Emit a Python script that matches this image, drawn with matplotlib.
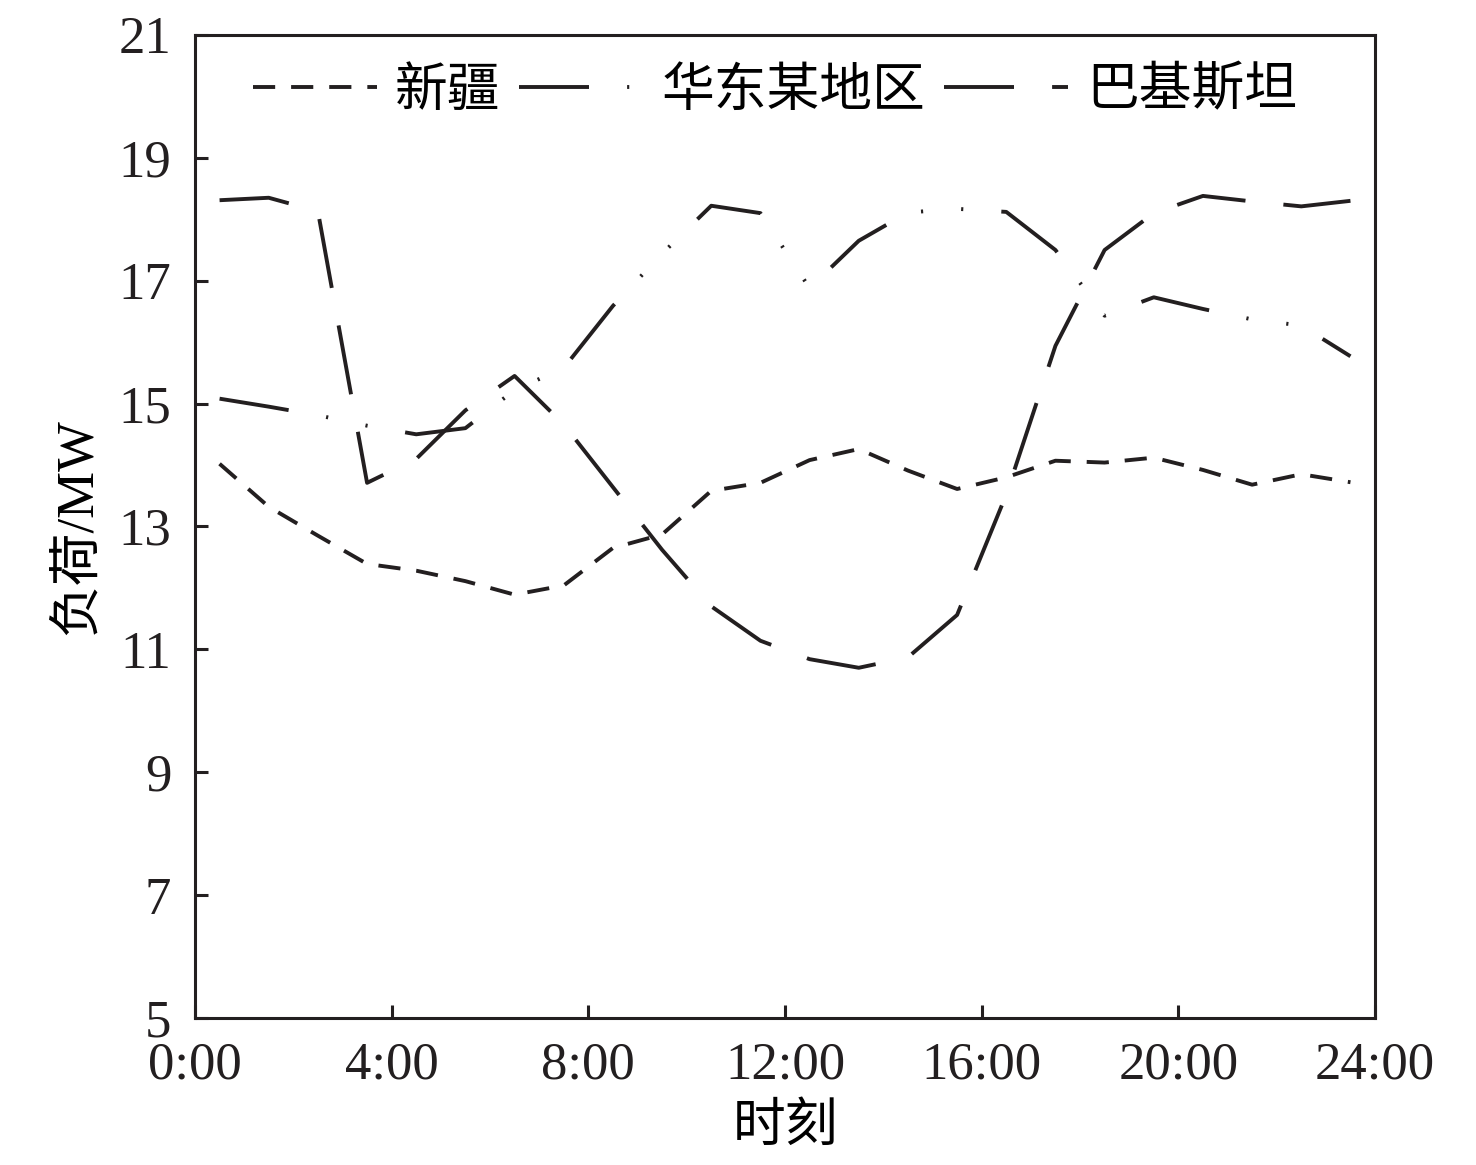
import matplotlib
matplotlib.use('Agg')
import matplotlib.pyplot as plt

plt.rcParams['font.family'] = ['Liberation Serif', 'Noto Sans CJK SC']

# hourly samples, plotted at the half hour
hours = [h + 0.5 for h in range(24)]

xinjiang = [14.02, 13.32, 12.85, 12.39, 12.28, 12.11, 11.89, 12.04, 12.65, 12.87, 13.58, 13.71,
            14.08, 14.26, 13.91, 13.61, 13.80, 14.07, 14.04, 14.12, 13.92, 13.68, 13.85, 13.72]
huadong = [15.08, 14.95, 14.81, 14.64, 14.50, 14.60, 15.22, 15.58, 16.59, 17.44, 18.22, 18.10,
           16.88, 17.65, 18.11, 18.17, 18.12, 17.50, 16.43, 16.73, 16.54, 16.37, 16.27, 15.77]
pakistan = [18.31, 18.35, 18.13, 13.71, 14.10, 14.89, 15.45, 14.66, 13.64, 12.62, 11.70, 11.14,
            10.84, 10.70, 10.87, 11.56, 13.52, 15.94, 17.50, 18.10, 18.38, 18.29, 18.21, 18.30]

names = ['新疆', '华东某地区', '巴基斯坦']
xticks = [0, 4, 8, 12, 16, 20, 24]
xlabels = ['0:00', '4:00', '8:00', '12:00', '16:00', '20:00', '24:00']
yticks = [5, 7, 9, 11, 13, 15, 17, 19, 21]

ink = '#231f20'
lw = 2.8

fig = plt.figure(figsize=(14.76, 11.65), dpi=100)
ax = fig.add_axes([0.1321, 0.1262, 0.7995, 0.8438])

ax.plot(hours, xinjiang, color=ink, lw=lw, dashes=(5.7, 4.1), label=names[0])
ax.plot(hours, huadong, color=ink, lw=lw, dashes=(18, 9.8, 0.55, 9.8, 0.55, 9.8), label=names[1])
ax.plot(hours, pakistan, color=ink, lw=lw, dashes=(18, 9.8), label=names[2])

ax.set_xlim(0, 24)
ax.set_ylim(5, 21)
ax.set_xticks(xticks)
ax.set_xticklabels(xlabels)
ax.set_yticks(yticks)

for s in ax.spines.values():
    s.set_linewidth(2.2)
    s.set_color(ink)
ax.tick_params(direction='in', length=9.5, width=2.2, colors=ink, labelsize=38)
ax.tick_params(axis='y', pad=17)
ax.tick_params(axis='x', pad=17)

ax.set_xlabel('时刻', fontsize=38, labelpad=10)
ax.set_ylabel('负荷/MW', fontsize=38, labelpad=12)

ax.legend(loc='center', bbox_to_anchor=(0.4915, 0.942), ncol=3, frameon=False,
          fontsize=38, handlelength=2.35, handletextpad=0.35, columnspacing=0.35)

fig.savefig('out.png', dpi=100)
